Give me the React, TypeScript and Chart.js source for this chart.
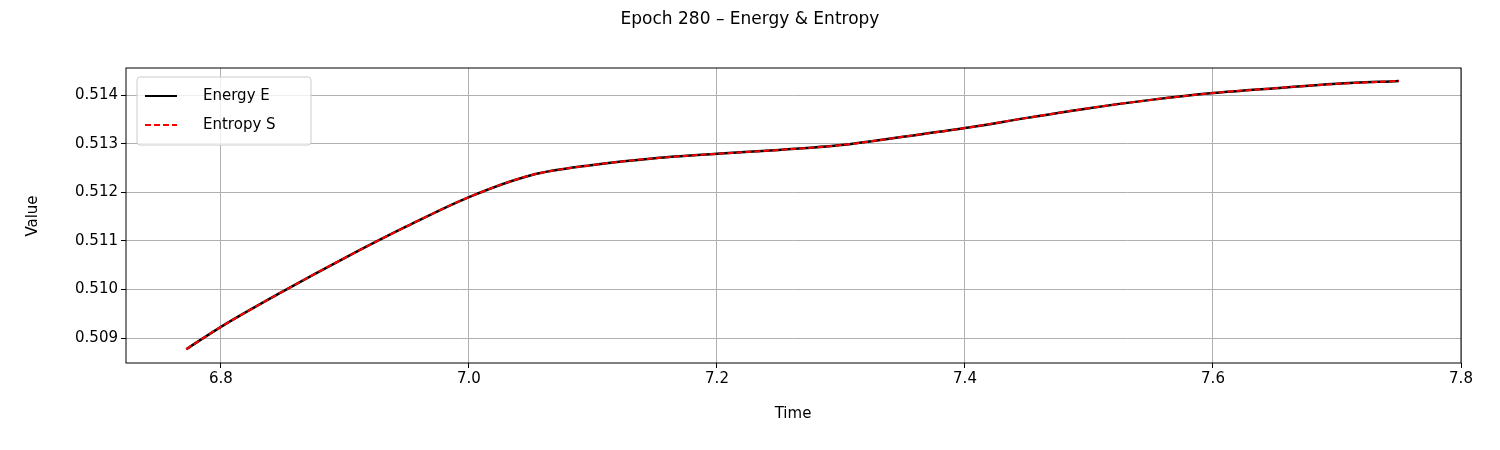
import { useEffect, useRef } from "react"
import { Chart, registerables } from "chart.js"

Chart.register(...registerables)

const times = [6.772, 6.8, 6.85, 6.9, 6.95, 7.0, 7.05, 7.1, 7.15, 7.2, 7.25, 7.3, 7.35, 7.4, 7.45, 7.5, 7.55, 7.6, 7.65, 7.7, 7.75]
const energy = [0.50877, 0.50923, 0.50996, 0.51065, 0.5113, 0.5119, 0.51235, 0.51256, 0.5127, 0.51279, 0.51287, 0.51297, 0.51314, 0.51332, 0.51353, 0.51373, 0.5139, 0.51404, 0.51414, 0.51423, 0.51429]
const entropy = [...energy]
const xTicks = [6.8, 7.0, 7.2, 7.4, 7.6, 7.8]
const yTicks = [0.509, 0.51, 0.511, 0.512, 0.513, 0.514]

const FONT = "DejaVu Sans"

const decor = {
  id: "decor",
  afterDraw(chart: Chart) {
    const { ctx, chartArea: a } = chart
    ctx.save()
    ctx.fillStyle = "#000"
    ctx.font = `17px '${FONT}'`
    ctx.textAlign = "center"
    ctx.textBaseline = "middle"
    ctx.fillText("Epoch 280 \u2013 Energy & Entropy", 750, 20)
    ctx.font = `15px '${FONT}'`
    ctx.fillText("Time", 793, 414)
    ctx.save()
    ctx.translate(33, 216)
    ctx.rotate(-Math.PI / 2)
    ctx.fillText("Value", 0, 0)
    ctx.restore()
    ctx.strokeStyle = "#000"
    ctx.lineWidth = 1
    ctx.strokeRect(a.left, a.top, a.right - a.left, a.bottom - a.top)
    // legend
    const lx = a.left + 11, ly = a.top + 9
    ctx.fillStyle = "rgba(255,255,255,0.8)"
    ctx.strokeStyle = "#ccc"
    ctx.beginPath()
    ctx.roundRect(lx, ly, 174, 68, 3)
    ctx.fill()
    ctx.stroke()
    ctx.font = `15px '${FONT}'`
    ctx.textAlign = "left"
    ctx.fillStyle = "#000"
    ctx.lineWidth = 2
    ctx.strokeStyle = "#000"
    ctx.beginPath(); ctx.moveTo(lx + 8, ly + 19); ctx.lineTo(lx + 40, ly + 19); ctx.stroke()
    ctx.fillText("Energy E", lx + 66, ly + 19)
    ctx.strokeStyle = "red"
    ctx.setLineDash([6, 3])
    ctx.beginPath(); ctx.moveTo(lx + 8, ly + 48); ctx.lineTo(lx + 40, ly + 48); ctx.stroke()
    ctx.setLineDash([])
    ctx.fillText("Entropy S", lx + 66, ly + 48)
    ctx.restore()
  },
}

export default function App() {
  const ref = useRef<HTMLCanvasElement>(null)
  useEffect(() => {
    document.body.style.margin = "0"
    if (!ref.current) return
    const chart = new Chart(ref.current, {
      type: "line",
      data: {
        datasets: [
          { label: "Entropy S", data: times.map((t, i) => ({ x: t, y: entropy[i] })), borderColor: "red", borderWidth: 2, borderDash: [6, 3], pointRadius: 0, cubicInterpolationMode: "monotone" },
          { label: "Energy E", data: times.map((t, i) => ({ x: t, y: energy[i] })), borderColor: "#000", borderWidth: 2.5, pointRadius: 0, cubicInterpolationMode: "monotone" },
        ],
      },
      options: {
        animation: false,
        responsive: false,
        layout: { padding: { top: 68, right: 39, left: 0, bottom: 0 } },
        plugins: { legend: { display: false }, title: { display: false }, tooltip: { enabled: false } },
        scales: {
          x: {
            type: "linear", min: 6.7234, max: 7.8,
            afterBuildTicks: (s: any) => { s.ticks = xTicks.map(v => ({ value: v })) },
            afterFit: (s: any) => { s.height = 87 },
            grid: { color: "#b0b0b0", tickLength: 5, tickColor: "#000" },
            border: { display: false },
            ticks: { color: "#000", font: { family: FONT, size: 15 }, padding: 2, callback: (v: any) => Number(v).toFixed(1), maxRotation: 0 },
          },
          y: {
            min: 0.508486, max: 0.514556,
            afterBuildTicks: (s: any) => { s.ticks = yTicks.map(v => ({ value: v })) },
            afterFit: (s: any) => { s.width = 126 },
            grid: { color: "#b0b0b0", tickLength: 5, tickColor: "#000" },
            border: { display: false },
            ticks: { color: "#000", font: { family: FONT, size: 15 }, padding: 3, callback: (v: any) => Number(v).toFixed(3) },
          },
        },
      },
      plugins: [decor],
    })
    return () => chart.destroy()
  }, [])
  return <canvas ref={ref} width={1500} height={450} style={{ width: 1500, height: 450, display: "block" }} />
}
